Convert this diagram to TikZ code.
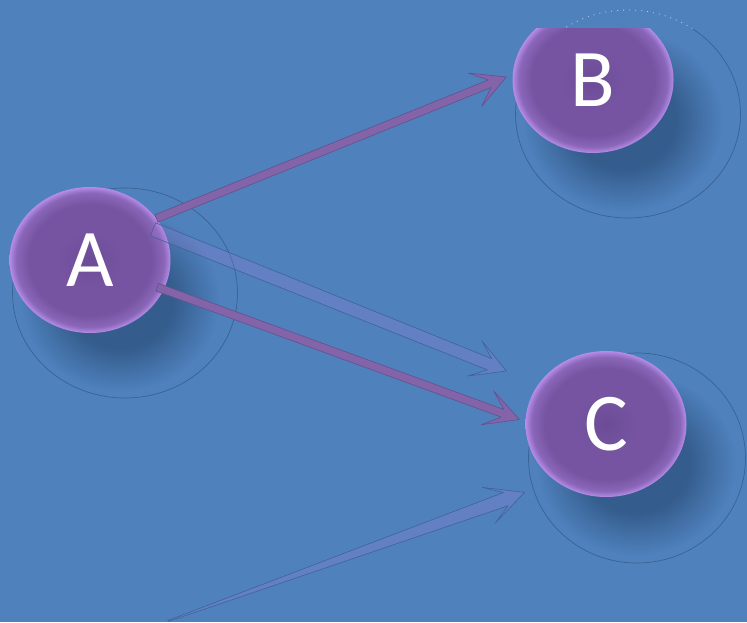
\documentclass[tikz,border=0pt]{standalone}
\usepackage{fontspec}
\newfontfamily\labfont{Carlito}
\usetikzlibrary{calc,shapes.geometric}

\definecolor{bg}{HTML}{4F81BD}
\definecolor{ring}{HTML}{3A6292}
\definecolor{shadowc}{HTML}{345C8C}
\definecolor{orbcore}{HTML}{6C4C96}
\definecolor{orbmid}{HTML}{7654A2}
\definecolor{orbedge}{HTML}{8A66B8}
\definecolor{orbrim}{HTML}{B68CE8}
\definecolor{linkfill}{HTML}{8464A8}
\definecolor{linkedge}{HTML}{64508E}
\definecolor{ghostfill}{HTML}{A080D8}
\definecolor{ghostedge}{HTML}{3B5E92}

% purple ball: dark core, thin lavender rim (25bp = path border)
\pgfdeclareradialshading{orbshade}{\pgfpointorigin}{color(0bp)=(orbcore); color(10bp)=(orbmid); color(19bp)=(orbmid); color(23bp)=(orbedge); color(25bp)=(orbrim); color(50bp)=(orbrim)}
% soft drop shadow fading into the background
\pgfdeclareradialshading{blurshade}{\pgfpointorigin}{color(0bp)=(shadowc); color(13bp)=(shadowc); color(25bp)=(bg); color(50bp)=(bg)}

% block arrow: style, from, to, start half-width, shaft half-width,
% join distance from tip, barb distance from tip, barb half-width
\newcommand\blockarrow[8]{%
  \path[#1] ($(#2)!#4!90:(#3)$)
    -- ($(#3)!#6!(#2)!#5!90:(#3)$)
    -- ($(#3)!#7!(#2)!#8!90:(#3)$)
    -- (#3)
    -- ($(#3)!#7!(#2)!#8!-90:(#3)$)
    -- ($(#3)!#6!(#2)!#5!-90:(#3)$)
    -- ($(#2)!#4!-90:(#3)$) -- cycle;}

\begin{document}
\begin{tikzpicture}[x=1pt,y=-1pt,
  orb/.style={ellipse, minimum width=161pt, minimum height=146pt, inner sep=0pt,
    shade, shading=orbshade, text=white, font=\labfont\fontsize{82}{82}\selectfont},
  blur/.style={shade, shading=blurshade},
  ringline/.style={draw=ring, line width=0.7pt},
  linkarrow/.style={fill=linkfill, draw=linkedge, line width=0.6pt, line join=round},
  ghostarrow/.style={fill=ghostfill, fill opacity=0.24, draw=ghostedge, draw opacity=0.85,
    line width=0.6pt, line join=round}]

\fill[bg] (0,0) rectangle (747,622);
\useasboundingbox (0,0) rectangle (747,622);

\coordinate (a) at (90,260);
\coordinate (b) at (593,80);
\coordinate (c) at (606,424);

% drop shadows
\foreach \p in {a,b,c}{\path[blur] ($(\p)+(30,40)$) ellipse [x radius=100pt, y radius=92pt];}

% shadow rings
\draw[ringline] ($(a)+(35,33)$) ellipse [x radius=112.5pt, y radius=105pt];
\begin{scope}
  \clip (0,28) rectangle (747,622);
  \draw[ringline] ($(b)+(35,34)$) ellipse [x radius=112.5pt, y radius=104pt];
\end{scope}
\begin{scope}
  \clip (0,0) rectangle (747,28);
  \draw[white, opacity=0.6, line width=0.8pt, dash pattern=on 1pt off 5pt]
    ($(b)+(35,34)$) ellipse [x radius=112.5pt, y radius=104pt];
\end{scope}
\draw[ringline] ($(c)+(31,34)$) ellipse [x radius=108.5pt, y radius=105pt];

% balls
\node[orb] (A) at (a) {A};
\begin{scope}
  \clip (0,28) rectangle (747,622);
  \node[orb] (B) at (b) {B};
\end{scope}
\node[orb] (C) at (c) {C};

% connector end points
\coordinate (ab0) at (A.32);
\coordinate (ab1) at ($(B.178)!-6pt!(B.center)$);
\coordinate (ac0) at ($(A.338)!7pt!(A.center)$);
\coordinate (ac1) at ($(C.177)!-6pt!(C.center)$);
\coordinate (gs) at ($(A.26)!9pt!(A.center)$);
\coordinate (ge) at ($(C.152)!-34pt!(C.center)$);
\coordinate (tail) at (168,621);
\coordinate (gt) at ($(C.220)!-29pt!(C.center)$);

% faint arrows
\blockarrow{ghostarrow}{gs}{ge}{7pt}{6pt}{18pt}{34pt}{19pt}
\blockarrow{ghostarrow}{tail}{gt}{0.5pt}{7pt}{20pt}{38pt}{19pt}

% solid arrows
\blockarrow{linkarrow}{ab0}{ab1}{4pt}{4pt}{18pt}{34pt}{18pt}
\blockarrow{linkarrow}{ac0}{ac1}{4pt}{4pt}{18pt}{34pt}{18pt}

\end{tikzpicture}
\end{document}
